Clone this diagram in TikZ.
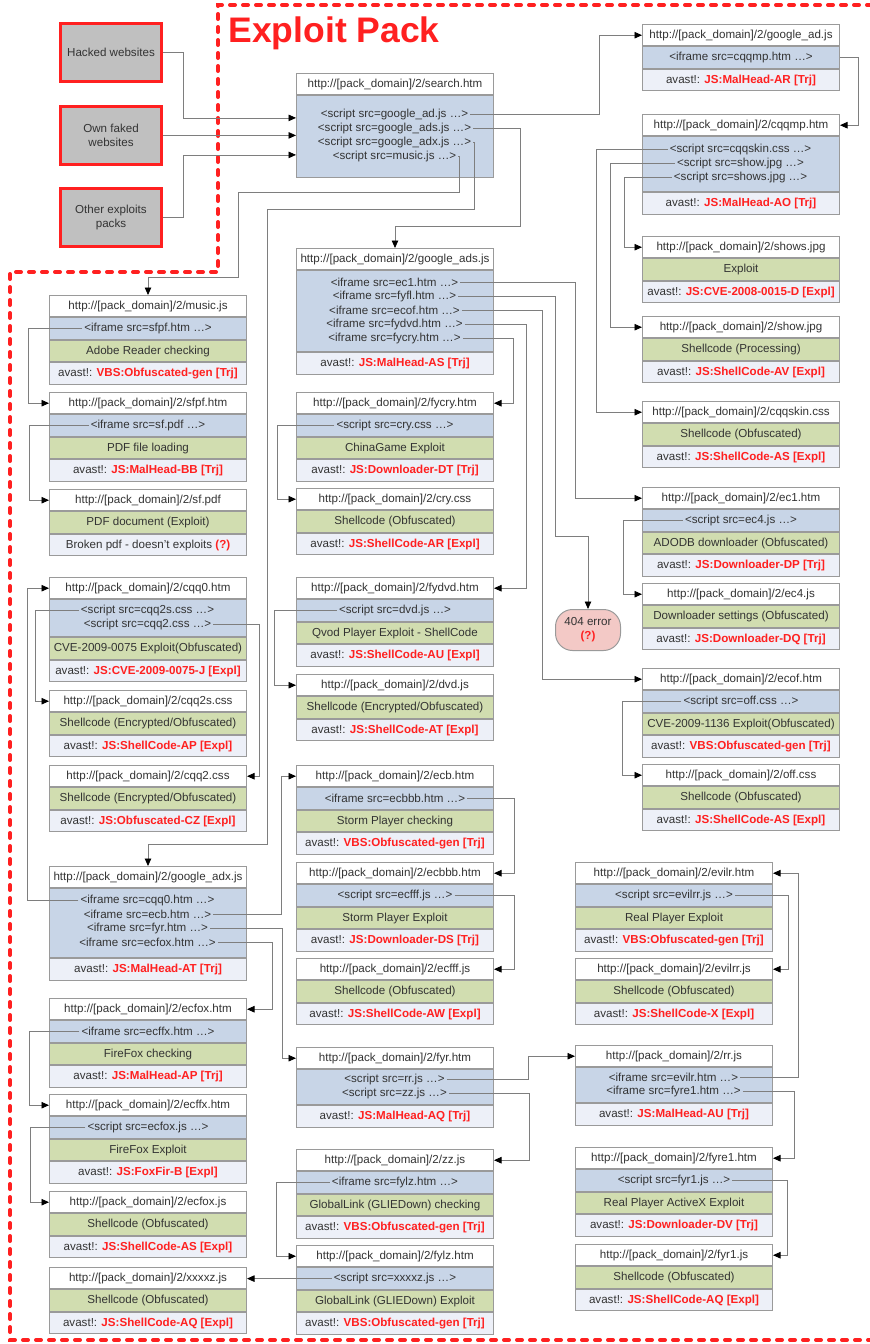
\documentclass[tikz,border=0pt]{standalone}
\usepackage{fontspec}
\setmainfont{Liberation Sans}
\usetikzlibrary{positioning,arrows.meta}
\definecolor{frame}{HTML}{9A9A9A}
\definecolor{wire}{HTML}{7E7E7E}
\definecolor{ink}{HTML}{333333}
\definecolor{alert}{HTML}{FF2020}
\definecolor{codeblue}{HTML}{C8D5E7}
\definecolor{infogreen}{HTML}{D1DDB0}
\definecolor{avpale}{HTML}{EDF0F8}
\definecolor{srcgray}{HTML}{C0C0C0}
\definecolor{errpink}{HTML}{F3C9C6}
\newcommand{\avast}[1]{avast!: \textcolor{alert}{\textbf{#1}}}
\begin{document}
\begin{tikzpicture}[x=1pt,y=-1pt,font=\fontsize{11.6}{14}\selectfont]
  \tikzstyle{urlrow}=[draw=frame,line width=1pt,fill=white,minimum width=197pt,minimum height=21.4pt,inner sep=0pt,text=ink,anchor=north west]
  \tikzstyle{coderow}=[urlrow,fill=codeblue]
  \tikzstyle{inforow}=[urlrow,fill=infogreen]
  \tikzstyle{avrow}=[urlrow,fill=avpale]
  \tikzstyle{tagline}=[inner sep=2pt,text=ink]
  \tikzstyle{origin}=[draw=alert,line width=3pt,fill=srcgray,minimum width=101pt,minimum height=58pt,align=center,text=ink]
  \tikzstyle{errbox}=[draw=frame,line width=1pt,fill=errpink,rounded corners=17pt,minimum width=65pt,minimum height=41pt,align=center,text=ink,inner sep=0pt]
  \tikzstyle{link}=[draw=wire,line width=0.8pt,-{Triangle[length=7.5pt,width=6.5pt,color=black]}]
  \tikzstyle{packline}=[draw=alert,line width=4pt,dash pattern=on 5pt off 8pt,line cap=round]
  \useasboundingbox (0,0) rectangle (870,1344);
  % frame of the pack
  \draw[packline] (872,5) -- (218,5) -- (218,272) -- (10,272) -- (10,1340) -- (872,1340);
  \node[anchor=base west,text=alert,font=\fontsize{35.5}{40}\selectfont\bfseries] (title) at (225,42) {Exploit Pack};
  % sources
  \node[origin] (hack) at (111,52.5) {Hacked websites};
  \node[origin] (own) at (111,135.4) {Own faked\\websites};
  \node[origin] (other) at (111,217.5) {Other exploits\\packs};
  % right column
  \node[urlrow] (adjs) at (642,24) {http://[pack\_domain]/2/google\_ad.js};
  \node[coderow,below=0pt of adjs] (adjs-c) {};
  \node[tagline] (adjs-1) at (adjs-c) {<iframe src=cqqmp.htm …>};
  \node[avrow,below=0pt of adjs-c] (adjs-a) {\avast{JS:MalHead-AR [Trj]}};
  \node[urlrow] (cqqm) at (642,114) {http://[pack\_domain]/2/cqqmp.htm};
  \node[coderow,minimum height=55pt,below=0pt of cqqm] (cqqm-c) {};
  \node[tagline] (cqqm-1) at (740.5,149) {<script src=cqqskin.css …>};
  \node[tagline] (cqqm-2) at (740.5,163) {<script src=show.jpg …>};
  \node[tagline] (cqqm-3) at (740.5,177) {<script src=shows.jpg …>};
  \node[avrow,below=0pt of cqqm-c] (cqqm-a) {\avast{JS:MalHead-AO [Trj]}};
  \node[urlrow] (shsj) at (642,236) {http://[pack\_domain]/2/shows.jpg};
  \node[inforow,below=0pt of shsj] (shsj-i) {Exploit};
  \node[avrow,below=0pt of shsj-i] (shsj-a) {\avast{JS:CVE-2008-0015-D [Expl]}};
  \node[urlrow] (shjp) at (642,316) {http://[pack\_domain]/2/show.jpg};
  \node[inforow,below=0pt of shjp] (shjp-i) {Shellcode (Processing)};
  \node[avrow,below=0pt of shjp-i] (shjp-a) {\avast{JS:ShellCode-AV [Expl]}};
  \node[urlrow] (cqss) at (642,401) {http://[pack\_domain]/2/cqqskin.css};
  \node[inforow,below=0pt of cqss] (cqss-i) {Shellcode (Obfuscated)};
  \node[avrow,below=0pt of cqss-i] (cqss-a) {\avast{JS:ShellCode-AS [Expl]}};
  \node[urlrow] (econe) at (642,487) {http://[pack\_domain]/2/ec1.htm};
  \node[coderow,below=0pt of econe] (econe-c) {};
  \node[tagline] (econe-1) at (econe-c) {<script src=ec4.js …>};
  \node[inforow,below=0pt of econe-c] (econe-i) {ADODB downloader (Obfuscated)};
  \node[avrow,below=0pt of econe-i] (econe-a) {\avast{JS:Downloader-DP [Trj]}};
  \node[urlrow] (ecfr) at (642,583) {http://[pack\_domain]/2/ec4.js};
  \node[inforow,below=0pt of ecfr] (ecfr-i) {Downloader settings (Obfuscated)};
  \node[avrow,below=0pt of ecfr-i] (ecfr-a) {\avast{JS:Downloader-DQ [Trj]}};
  \node[urlrow] (ecof) at (642,668) {http://[pack\_domain]/2/ecof.htm};
  \node[coderow,below=0pt of ecof] (ecof-c) {};
  \node[tagline] (ecof-1) at (ecof-c) {<script src=off.css …>};
  \node[inforow,below=0pt of ecof-c] (ecof-i) {CVE-2009-1136 Exploit(Obfuscated)};
  \node[avrow,below=0pt of ecof-i] (ecof-a) {\avast{VBS:Obfuscated-gen [Trj]}};
  \node[urlrow] (offc) at (642,764) {http://[pack\_domain]/2/off.css};
  \node[inforow,below=0pt of offc] (offc-i) {Shellcode (Obfuscated)};
  \node[avrow,below=0pt of offc-i] (offc-a) {\avast{JS:ShellCode-AS [Expl]}};
  % lower right column
  \node[urlrow] (evlr) at (575,862) {http://[pack\_domain]/2/evilr.htm};
  \node[coderow,below=0pt of evlr] (evlr-c) {};
  \node[tagline] (evlr-1) at (evlr-c) {<script src=evilrr.js …>};
  \node[inforow,below=0pt of evlr-c] (evlr-i) {Real Player Exploit};
  \node[avrow,below=0pt of evlr-i] (evlr-a) {\avast{VBS:Obfuscated-gen [Trj]}};
  \node[urlrow] (evrr) at (575,958) {http://[pack\_domain]/2/evilrr.js};
  \node[inforow,below=0pt of evrr] (evrr-i) {Shellcode (Obfuscated)};
  \node[avrow,below=0pt of evrr-i] (evrr-a) {\avast{JS:ShellCode-X [Expl]}};
  \node[urlrow] (rrjs) at (575,1045) {http://[pack\_domain]/2/rr.js};
  \node[coderow,minimum height=35pt,below=0pt of rrjs] (rrjs-c) {};
  \node[tagline] (rrjs-1) at (673.5,1077) {<iframe src=evilr.htm …>};
  \node[tagline] (rrjs-2) at (673.5,1091) {<iframe src=fyre1.htm …>};
  \node[avrow,below=0pt of rrjs-c] (rrjs-a) {\avast{JS:MalHead-AU [Trj]}};
  \node[urlrow] (fyre) at (575,1147) {http://[pack\_domain]/2/fyre1.htm};
  \node[coderow,below=0pt of fyre] (fyre-c) {};
  \node[tagline] (fyre-1) at (fyre-c) {<script src=fyr1.js …>};
  \node[inforow,below=0pt of fyre-c] (fyre-i) {Real Player ActiveX Exploit};
  \node[avrow,below=0pt of fyre-i] (fyre-a) {\avast{JS:Downloader-DV [Trj]}};
  \node[urlrow] (fyro) at (575,1244) {http://[pack\_domain]/2/fyr1.js};
  \node[inforow,below=0pt of fyro] (fyro-i) {Shellcode (Obfuscated)};
  \node[avrow,below=0pt of fyro-i] (fyro-a) {\avast{JS:ShellCode-AQ [Expl]}};
  % middle column
  \node[urlrow] (srch) at (296,73) {http://[pack\_domain]/2/search.htm};
  \node[coderow,minimum height=82pt,below=0pt of srch] (srch-c) {};
  \node[tagline] (srch-1) at (394.5,114) {<script src=google\_ad.js …>};
  \node[tagline] (srch-2) at (394.5,128) {<script src=google\_ads.js …>};
  \node[tagline] (srch-3) at (394.5,142) {<script src=google\_adx.js …>};
  \node[tagline] (srch-4) at (394.5,156) {<script src=music.js …>};
  \node[urlrow] (gads) at (296,248) {http://[pack\_domain]/2/google\_ads.js};
  \node[coderow,minimum height=81pt,below=0pt of gads] (gads-c) {};
  \node[tagline] (gads-1) at (394.5,282) {<iframe src=ec1.htm …>};
  \node[tagline] (gads-2) at (394.5,296) {<iframe src=fyfl.htm …>};
  \node[tagline] (gads-3) at (394.5,310) {<iframe src=ecof.htm …>};
  \node[tagline] (gads-4) at (394.5,324) {<iframe src=fydvd.htm …>};
  \node[tagline] (gads-5) at (394.5,338) {<iframe src=fycry.htm …>};
  \node[avrow,below=0pt of gads-c] (gads-a) {\avast{JS:MalHead-AS [Trj]}};
  \node[urlrow] (fyc) at (296,392) {http://[pack\_domain]/2/fycry.htm};
  \node[coderow,below=0pt of fyc] (fyc-c) {};
  \node[tagline] (fyc-1) at (fyc-c) {<script src=cry.css …>};
  \node[inforow,below=0pt of fyc-c] (fyc-i) {ChinaGame Exploit};
  \node[avrow,below=0pt of fyc-i] (fyc-a) {\avast{JS:Downloader-DT [Trj]}};
  \node[urlrow] (cryc) at (296,488) {http://[pack\_domain]/2/cry.css};
  \node[inforow,below=0pt of cryc] (cryc-i) {Shellcode (Obfuscated)};
  \node[avrow,below=0pt of cryc-i] (cryc-a) {\avast{JS:ShellCode-AR [Expl]}};
  \node[urlrow] (fyd) at (296,577) {http://[pack\_domain]/2/fydvd.htm};
  \node[coderow,below=0pt of fyd] (fyd-c) {};
  \node[tagline] (fyd-1) at (fyd-c) {<script src=dvd.js …>};
  \node[inforow,below=0pt of fyd-c] (fyd-i) {Qvod Player Exploit - ShellCode};
  \node[avrow,below=0pt of fyd-i] (fyd-a) {\avast{JS:ShellCode-AU [Expl]}};
  \node[urlrow] (dvdj) at (296,674) {http://[pack\_domain]/2/dvd.js};
  \node[inforow,below=0pt of dvdj] (dvdj-i) {Shellcode (Encrypted/Obfuscated)};
  \node[avrow,below=0pt of dvdj-i] (dvdj-a) {\avast{JS:ShellCode-AT [Expl]}};
  \node[urlrow] (ecb) at (296,765) {http://[pack\_domain]/2/ecb.htm};
  \node[coderow,below=0pt of ecb] (ecb-c) {};
  \node[tagline] (ecb-1) at (ecb-c) {<iframe src=ecbbb.htm …>};
  \node[inforow,below=0pt of ecb-c] (ecb-i) {Storm Player checking};
  \node[avrow,below=0pt of ecb-i] (ecb-a) {\avast{VBS:Obfuscated-gen [Trj]}};
  \node[urlrow] (ecbb) at (296,862) {http://[pack\_domain]/2/ecbbb.htm};
  \node[coderow,below=0pt of ecbb] (ecbb-c) {};
  \node[tagline] (ecbb-1) at (ecbb-c) {<script src=ecfff.js …>};
  \node[inforow,below=0pt of ecbb-c] (ecbb-i) {Storm Player Exploit};
  \node[avrow,below=0pt of ecbb-i] (ecbb-a) {\avast{JS:Downloader-DS [Trj]}};
  \node[urlrow] (ecff) at (296,958) {http://[pack\_domain]/2/ecfff.js};
  \node[inforow,below=0pt of ecff] (ecff-i) {Shellcode (Obfuscated)};
  \node[avrow,below=0pt of ecff-i] (ecff-a) {\avast{JS:ShellCode-AW [Expl]}};
  \node[urlrow] (fyr) at (296,1047) {http://[pack\_domain]/2/fyr.htm};
  \node[coderow,minimum height=35pt,below=0pt of fyr] (fyr-c) {};
  \node[tagline] (fyr-1) at (394.5,1079) {<script src=rr.js …>};
  \node[tagline] (fyr-2) at (394.5,1093) {<script src=zz.js …>};
  \node[avrow,below=0pt of fyr-c] (fyr-a) {\avast{JS:MalHead-AQ [Trj]}};
  \node[urlrow] (zzjs) at (296,1149) {http://[pack\_domain]/2/zz.js};
  \node[coderow,below=0pt of zzjs] (zzjs-c) {};
  \node[tagline] (zzjs-1) at (zzjs-c) {<iframe src=fylz.htm …>};
  \node[inforow,below=0pt of zzjs-c] (zzjs-i) {GlobalLink (GLIEDown) checking};
  \node[avrow,below=0pt of zzjs-i] (zzjs-a) {\avast{VBS:Obfuscated-gen [Trj]}};
  \node[urlrow] (fylz) at (296,1245) {http://[pack\_domain]/2/fylz.htm};
  \node[coderow,below=0pt of fylz] (fylz-c) {};
  \node[tagline] (fylz-1) at (fylz-c) {<script src=xxxxz.js …>};
  \node[inforow,below=0pt of fylz-c] (fylz-i) {GlobalLink (GLIEDown) Exploit};
  \node[avrow,below=0pt of fylz-i] (fylz-a) {\avast{VBS:Obfuscated-gen [Trj]}};
  \node[errbox] (err) at (588,630) {404 error\\\textcolor{alert}{\textbf{(?)}}};
  % left column
  \node[urlrow] (musi) at (49,295) {http://[pack\_domain]/2/music.js};
  \node[coderow,below=0pt of musi] (musi-c) {};
  \node[tagline] (musi-1) at (musi-c) {<iframe src=sfpf.htm …>};
  \node[inforow,below=0pt of musi-c] (musi-i) {Adobe Reader checking};
  \node[avrow,below=0pt of musi-i] (musi-a) {\avast{VBS:Obfuscated-gen [Trj]}};
  \node[urlrow] (sfpf) at (49,392) {http://[pack\_domain]/2/sfpf.htm};
  \node[coderow,below=0pt of sfpf] (sfpf-c) {};
  \node[tagline] (sfpf-1) at (sfpf-c) {<iframe src=sf.pdf …>};
  \node[inforow,below=0pt of sfpf-c] (sfpf-i) {PDF file loading};
  \node[avrow,below=0pt of sfpf-i] (sfpf-a) {\avast{JS:MalHead-BB [Trj]}};
  \node[urlrow] (sfpd) at (49,489) {http://[pack\_domain]/2/sf.pdf};
  \node[inforow,below=0pt of sfpd] (sfpd-i) {PDF document (Exploit)};
  \node[avrow,below=0pt of sfpd-i] (sfpd-a) {Broken pdf - doesn’t exploits \textcolor{alert}{\textbf{(?)}}};
  \node[urlrow] (cqz) at (49,577) {http://[pack\_domain]/2/cqq0.htm};
  \node[coderow,minimum height=37pt,below=0pt of cqz] (cqz-c) {};
  \node[tagline] (cqz-1) at (147.5,610) {<script src=cqq2s.css …>};
  \node[tagline] (cqz-2) at (147.5,624) {<script src=cqq2.css …>};
  \node[inforow,below=0pt of cqz-c] (cqz-i) {CVE-2009-0075 Exploit(Obfuscated)};
  \node[avrow,below=0pt of cqz-i] (cqz-a) {\avast{JS:CVE-2009-0075-J [Expl]}};
  \node[urlrow] (cqts) at (49,690) {http://[pack\_domain]/2/cqq2s.css};
  \node[inforow,below=0pt of cqts] (cqts-i) {Shellcode (Encrypted/Obfuscated)};
  \node[avrow,below=0pt of cqts-i] (cqts-a) {\avast{JS:ShellCode-AP [Expl]}};
  \node[urlrow] (cqtc) at (49,765) {http://[pack\_domain]/2/cqq2.css};
  \node[inforow,below=0pt of cqtc] (cqtc-i) {Shellcode (Encrypted/Obfuscated)};
  \node[avrow,below=0pt of cqtc-i] (cqtc-a) {\avast{JS:Obfuscated-CZ [Expl]}};
  \node[urlrow] (gadx) at (49,866) {http://[pack\_domain]/2/google\_adx.js};
  \node[coderow,minimum height=69pt,below=0pt of gadx] (gadx-c) {};
  \node[tagline] (gadx-1) at (147.5,900) {<iframe src=cqq0.htm …>};
  \node[tagline] (gadx-2) at (147.5,914) {<iframe src=ecb.htm …>};
  \node[tagline] (gadx-3) at (147.5,928) {<iframe src=fyr.htm …>};
  \node[tagline] (gadx-4) at (147.5,942) {<iframe src=ecfox.htm …>};
  \node[avrow,below=0pt of gadx-c] (gadx-a) {\avast{JS:MalHead-AT [Trj]}};
  \node[urlrow] (ecfx) at (49,998) {http://[pack\_domain]/2/ecfox.htm};
  \node[coderow,below=0pt of ecfx] (ecfx-c) {};
  \node[tagline] (ecfx-1) at (ecfx-c) {<iframe src=ecffx.htm …>};
  \node[inforow,below=0pt of ecfx-c] (ecfx-i) {FireFox checking};
  \node[avrow,below=0pt of ecfx-i] (ecfx-a) {\avast{JS:MalHead-AP [Trj]}};
  \node[urlrow] (ecfh) at (49,1094) {http://[pack\_domain]/2/ecffx.htm};
  \node[coderow,below=0pt of ecfh] (ecfh-c) {};
  \node[tagline] (ecfh-1) at (ecfh-c) {<script src=ecfox.js …>};
  \node[inforow,below=0pt of ecfh-c] (ecfh-i) {FireFox Exploit};
  \node[avrow,below=0pt of ecfh-i] (ecfh-a) {\avast{JS:FoxFir-B [Expl]}};
  \node[urlrow] (ecfj) at (49,1191) {http://[pack\_domain]/2/ecfox.js};
  \node[inforow,below=0pt of ecfj] (ecfj-i) {Shellcode (Obfuscated)};
  \node[avrow,below=0pt of ecfj-i] (ecfj-a) {\avast{JS:ShellCode-AS [Expl]}};
  \node[urlrow] (xxjs) at (49,1267) {http://[pack\_domain]/2/xxxxz.js};
  \node[inforow,below=0pt of xxjs] (xxjs-i) {Shellcode (Obfuscated)};
  \node[avrow,below=0pt of xxjs-i] (xxjs-a) {\avast{JS:ShellCode-AQ [Expl]}};
  % links from the sources
  \draw[link] (hack.east) -- ++(20,0) |- ([yshift=19pt]srch-c.west);
  \draw[link] (own.east) -- (own.east -| srch-c.west);
  \draw[link] (other.east) -- ++(20,0) |- ([yshift=-18pt]srch-c.west);
  % links of search.htm
  \draw[link] (srch-1.east) -| ([xshift=-43pt]adjs.west) -- (adjs.west);
  \draw[link] (srch-2.east) -| (520,226) -| (gads.north);
  \draw[link] (srch-3.east) -- ++(1,0) -- ++(0,67) -| (267,844) -| (gadx.north);
  \draw[link] (srch-4.east) -- ++(1,0) -- ++(0,36) -| (238,277) -| (musi.north);
  % right column links
  \draw[link] (adjs-c.east) -- ++(18,0) |- (cqqm.east);
  \draw[link] (cqqm-1.west) -| ([xshift=-46pt]cqss.west) -- (cqss.west);
  \draw[link] (cqqm-2.west) -| ([xshift=-32pt]shjp.west) -- (shjp.west);
  \draw[link] (cqqm-3.west) -| ([xshift=-18pt]shsj.west) -- (shsj.west);
  \draw[link] (econe-1.west) -| ([xshift=-19pt]ecfr.west) -- (ecfr.west);
  \draw[link] (ecof-1.west) -| ([xshift=-20pt]offc.west) -- (offc.west);
  % google_ads.js links
  \draw[link] (gads-1.east) -| ([xshift=-67pt]econe.west) -- (econe.west);
  \draw[link] (gads-2.east) -| (555,536) -| (err.north);
  \draw[link] (gads-3.east) -| ([xshift=-100pt]ecof.west) -- (ecof.west);
  \draw[link] (gads-4.east) -| ([xshift=32pt]fyd.east) -- (fyd.east);
  \draw[link] (gads-5.east) -| ([xshift=19pt]fyc.east) -- (fyc.east);
  % middle column links
  \draw[link] (fyc-1.west) -| ([xshift=-19pt]cryc.west) -- (cryc.west);
  \draw[link] (fyd-1.west) -| ([xshift=-22pt]dvdj.west) -- (dvdj.west);
  \draw[link] (ecb-1.east) -| ([xshift=20pt]ecbb.east) -- (ecbb.east);
  \draw[link] (ecbb-1.east) -| ([xshift=20pt]ecff.east) -- (ecff.east);
  \draw[link] (fyr-1.east) -| ([xshift=-47pt]rrjs.west) -- (rrjs.west);
  \draw[link] (fyr-2.east) -| ([xshift=35pt]zzjs.east) -- (zzjs.east);
  \draw[link] (zzjs-1.west) -| ([xshift=-20pt]fylz.west) -- (fylz.west);
  \draw[link] (fylz-1.west) -- (fylz-1.west -| xxjs.east);
  % lower right links
  \draw[link] (evlr-1.east) -| ([xshift=15pt]evrr.east) -- (evrr.east);
  \draw[link] (rrjs-1.east) -| ([xshift=25pt]evlr.east) -- (evlr.east);
  \draw[link] (rrjs-2.east) -| ([xshift=21pt]fyre.east) -- (fyre.east);
  \draw[link] (fyre-1.east) -| ([xshift=14pt]fyro.east) -- (fyro.east);
  % left column links
  \draw[link] (musi-1.west) -| ([xshift=-21pt]sfpf.west) -- (sfpf.west);
  \draw[link] (sfpf-1.west) -| ([xshift=-20pt]sfpd.west) -- (sfpd.west);
  \draw[link] (cqz-1.west) -| ([xshift=-14pt]cqts.west) -- (cqts.west);
  \draw[link] (cqz-2.east) -| ([xshift=12pt]cqtc.east) -- (cqtc.east);
  \draw[link] (gadx-1.west) -| ([xshift=-22pt]cqz.west) -- (cqz.west);
  \draw[link] (gadx-2.east) -| ([xshift=-15pt]ecb.west) -- (ecb.west);
  \draw[link] (gadx-3.east) -| ([xshift=-14pt]fyr.west) -- (fyr.west);
  \draw[link] (gadx-4.east) -| ([xshift=25pt]ecfx.east) -- (ecfx.east);
  \draw[link] (ecfx-1.west) -| ([xshift=-20pt]ecfh.west) -- (ecfh.west);
  \draw[link] (ecfh-1.west) -| ([xshift=-19pt]ecfj.west) -- (ecfj.west);
\end{tikzpicture}
\end{document}
